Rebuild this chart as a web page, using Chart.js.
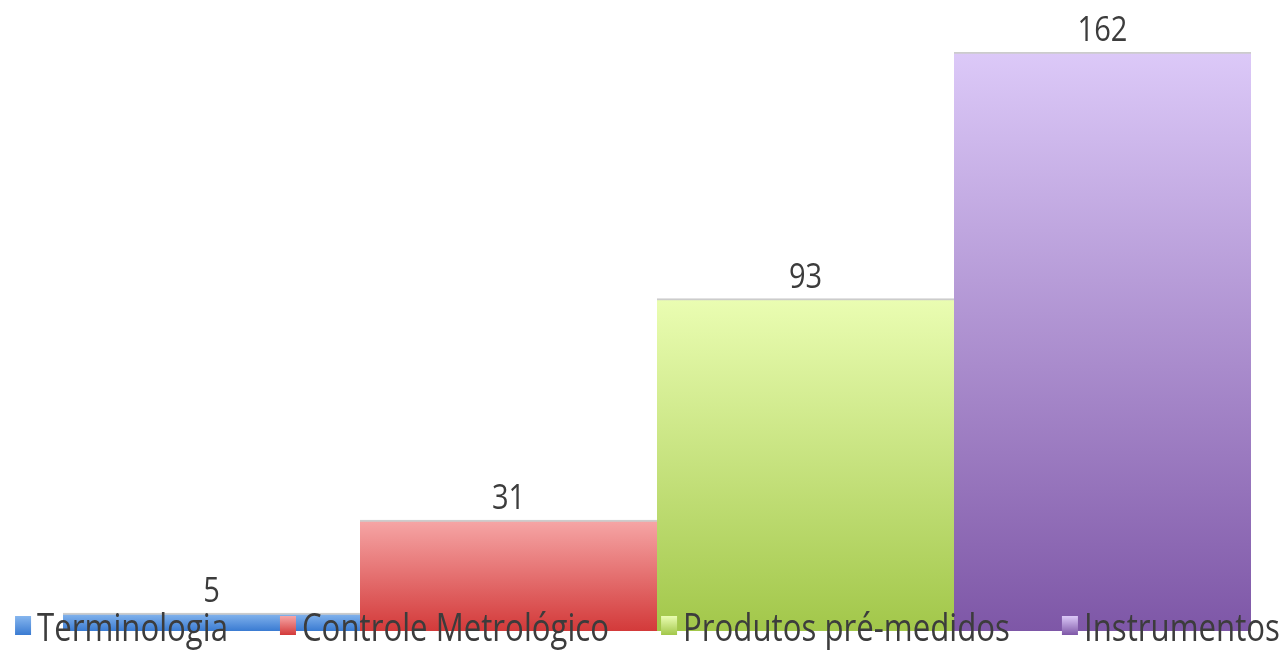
<!DOCTYPE html>
<html>
<head>
<meta charset="utf-8">
<script src="https://cdn.jsdelivr.net/npm/chart.js@4/dist/chart.umd.min.js"></script>
<style>
  html, body { margin: 0; padding: 0; background: #ffffff; overflow: hidden; }
  #c { display: block; }
</style>
</head>
<body>
<canvas id="c" width="1283" height="651"></canvas>
<script>
const categories = [''];
const seriesNames = ['Terminologia', 'Controle Metrológico', 'Produtos pré-medidos', 'Instrumentos'];
const seriesValues = [5, 31, 93, 162];
const topColors = ['#86b6ee', '#f6a6a6', '#eafdb2', '#dcc9f8'];
const bottomColors = ['#3a7bd2', '#d33a3a', '#a2c74a', '#7e57a7'];

const TEXT_COLOR = '#3c3c3c';
const FONT = '"Open Sans", "DejaVu Sans", sans-serif';

function drawScaledText(ctx, text, x, y, size, sx, align) {
  ctx.save();
  ctx.font = size + 'px ' + FONT;
  const w = ctx.measureText(text).width * sx;
  let left = x;
  if (align === 'center') left = x - w / 2;
  ctx.translate(left, y);
  ctx.scale(sx, 1);
  ctx.textAlign = 'left';
  ctx.fillText(text, 0, 0);
  ctx.restore();
  return w;
}

const valueLabels = {
  id: 'valueLabels',
  afterDatasetsDraw(chart) {
    const ctx = chart.ctx;
    ctx.save();
    ctx.fillStyle = TEXT_COLOR;
    ctx.textBaseline = 'alphabetic';
    chart.data.datasets.forEach((ds, i) => {
      const meta = chart.getDatasetMeta(i);
      meta.data.forEach((el, j) => {
        drawScaledText(ctx, String(ds.data[j]), el.x, el.y - 11, 35, 0.83, 'center');
      });
    });
    ctx.restore();
  }
};

const overlayLegend = {
  id: 'overlayLegend',
  afterDraw(chart) {
    const ctx = chart.ctx;
    const size = 39, sx = 0.8;
    const boxW = 16, boxH = 19, boxGap = 6, itemGap = 52;
    ctx.save();
    ctx.font = size + 'px ' + FONT;
    const widths = chart.data.datasets.map(ds => ctx.measureText(ds.label).width * sx);
    const total = widths.reduce((a, b) => a + b, 0) + widths.length * (boxW + boxGap) + (widths.length - 1) * itemGap;
    let x = (chart.width - total) / 2 + 6;
    const baseline = 641;
    chart.data.datasets.forEach((ds, i) => {
      const g = ctx.createLinearGradient(0, baseline - 25, 0, baseline - 6);
      g.addColorStop(0, topColors[i]);
      g.addColorStop(1, bottomColors[i]);
      ctx.fillStyle = g;
      ctx.fillRect(x, baseline - 25, boxW, boxH);
      x += boxW + boxGap;
      ctx.fillStyle = TEXT_COLOR;
      drawScaledText(ctx, ds.label, x, baseline, size, sx, 'left');
      x += widths[i] + itemGap;
    });
    ctx.restore();
  }
};

function barGradient(i) {
  return function (context) {
    const chart = context.chart;
    const yScale = chart.scales.y;
    if (!chart.chartArea || !yScale || context.raw === undefined) return bottomColors[i];
    const top = yScale.getPixelForValue(context.raw);
    const base = yScale.getPixelForValue(0);
    if (!isFinite(top) || !isFinite(base) || top === base) return bottomColors[i];
    const g = chart.ctx.createLinearGradient(0, top, 0, base);
    g.addColorStop(0, topColors[i]);
    g.addColorStop(1, bottomColors[i]);
    return g;
  };
}

new Chart(document.getElementById('c'), {
  type: 'bar',
  data: {
    labels: categories,
    datasets: seriesNames.map((name, i) => ({
      label: name,
      data: [seriesValues[i]],
      backgroundColor: barGradient(i),
      borderColor: 'rgba(170,170,170,0.6)',
      borderWidth: { top: 2, left: 0, right: 0, bottom: 0 },
      borderSkipped: 'start',
      categoryPercentage: 1,
      barPercentage: 1
    }))
  },
  options: {
    responsive: false,
    animation: false,
    layout: { padding: { left: 63, right: 32, top: 52, bottom: 20 } },
    plugins: {
      legend: { display: false },
      tooltip: { enabled: false },
      title: { display: false }
    },
    scales: {
      x: { display: false },
      y: { display: false, min: 0, max: 162 }
    }
  },
  plugins: [valueLabels, overlayLegend]
});
</script>
</body>
</html>
